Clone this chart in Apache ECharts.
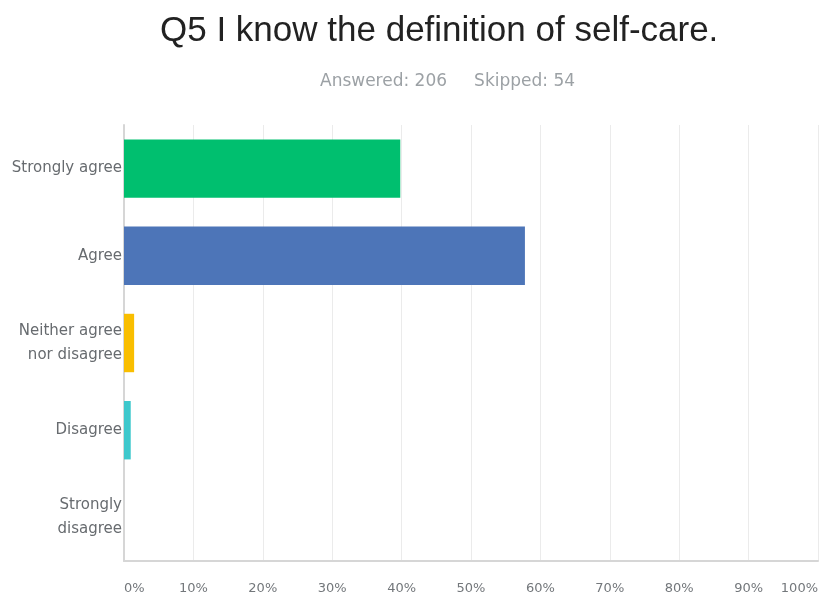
<!DOCTYPE html>
<html>
<head>
<meta charset="utf-8">
<script src="https://cdn.jsdelivr.net/npm/echarts@6/dist/echarts.min.js"></script>
<style>
  html, body { margin: 0; padding: 0; background: #ffffff; }
  #chart { width: 822px; height: 599px; }
</style>
</head>
<body>
<div id="chart"></div>
<script>
// Survey question and response counts
const titleText = 'Q5 I know the definition of self-care.';
const answered = 206;
const skipped = 54;

const categories = ['Strongly agree', 'Agree', 'Neither agree\nnor disagree', 'Disagree', 'Strongly\ndisagree'];
const percentages = [39.81, 57.77, 1.46, 0.97, 0.00];
const barColors = ['#00bf6f', '#4d75b8', '#f9be00', '#3ec8cc', '#b0b0b0'];
const tickValues = [0, 10, 20, 30, 40, 50, 60, 70, 80, 90, 100];

const chart = echarts.init(document.getElementById('chart'), null, { renderer: 'canvas' });

chart.setOption({
  backgroundColor: '#ffffff',
  animation: false,
  title: [
    {
      text: titleText,
      left: 160,
      top: 14,
      padding: 0,
      textStyle: { fontFamily: 'Liberation Sans', fontSize: 35, fontWeight: 'normal', color: '#222222' }
    },
    {
      text: 'Answered: ' + answered + '     Skipped: ' + skipped,
      left: 320,
      top: 73,
      padding: 0,
      textStyle: { fontFamily: 'DejaVu Sans', fontSize: 17, fontWeight: 'normal', color: '#9ca1a5' }
    }
  ],
  grid: { left: 124, right: 4, top: 125, bottom: 38, containLabel: false },
  xAxis: {
    type: 'value',
    min: 0,
    max: 100,
    interval: 10,
    axisLine: { show: true, lineStyle: { color: '#d6d6d6', width: 2 } },
    axisTick: { show: false },
    splitLine: { show: true, lineStyle: { color: '#ebebeb', width: 1 } },
    axisLabel: {
      margin: 21,
      color: '#73777b',
      fontFamily: 'DejaVu Sans',
      fontSize: 13,
      alignMinLabel: 'left',
      alignMaxLabel: 'right',
      formatter: v => tickValues.includes(v) ? v + '%' : ''
    }
  },
  yAxis: {
    type: 'category',
    data: categories,
    inverse: true,
    axisLine: { show: true, lineStyle: { color: '#d6d6d6', width: 2 } },
    axisTick: { show: false },
    axisLabel: {
      margin: 2,
      color: '#676b6f',
      fontFamily: 'DejaVu Sans',
      fontSize: 15,
      lineHeight: 24,
      align: 'right'
    }
  },
  series: [
    {
      type: 'bar',
      barCategoryGap: '33%',
      data: percentages.map((v, i) => ({ value: v, itemStyle: { color: barColors[i] } })),
      label: { show: false }
    }
  ]
});
</script>
</body>
</html>
